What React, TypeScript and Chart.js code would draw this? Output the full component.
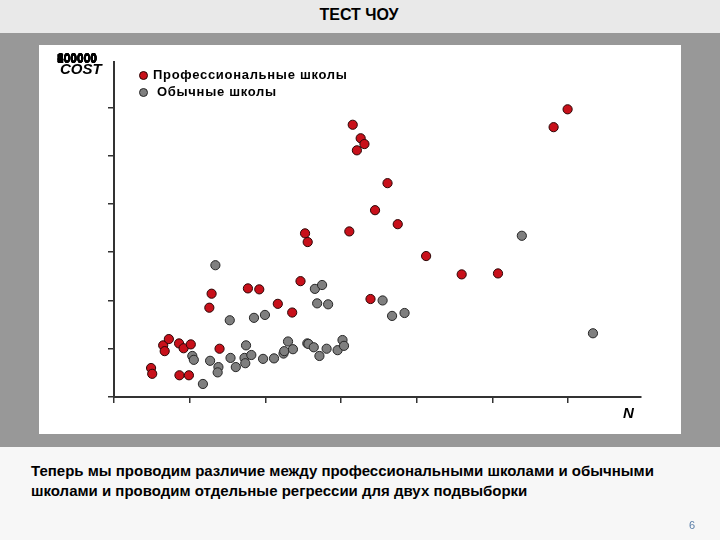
import React, { useEffect, useRef } from "react";
import { Chart, registerables } from "chart.js";

Chart.register(...registerables);

const slideTitle = "ТЕСТ ЧОУ";
const captionLines = [
  "Теперь мы проводим различие между профессиональными школами и обычными",
  "школами и проводим отдельные регрессии для двух подвыборки",
];
const pageNumber = "6";
const yAxisTitle = "COST";
const xAxisTitle = "N";
const seriesNames = ["Профессиональные школы", "Обычные школы"];

// Professional schools (N, COST)
const proN = [98, 101, 130, 134, 145, 172, 184, 203, 173, 198, 252, 258, 279, 354, 384, 433, 471, 493, 505, 512, 622, 631, 642, 652, 662, 678, 690, 723, 750, 825, 919, 1015, 1162, 1199];
const proCost = [60000, 48000, 107000, 95000, 120000, 111000, 101000, 109000, 45000, 45000, 185000, 214000, 100000, 225000, 223000, 193000, 175000, 240000, 339000, 321000, 343000, 564000, 511000, 536000, 524000, 203000, 387000, 443000, 358000, 292000, 254000, 256000, 559000, 596000];

// Regular schools (N, COST)
const regN = [207, 211, 235, 254, 268, 276, 274, 306, 308, 322, 345, 347, 349, 363, 370, 394, 399, 423, 448, 450, 460, 473, 511, 514, 528, 531, 537, 543, 550, 562, 566, 591, 604, 608, 710, 735, 768, 1078, 1266];
const regCost = [85000, 77000, 27000, 75000, 273000, 62000, 51000, 159000, 81000, 62000, 81000, 70000, 107000, 87000, 164000, 79000, 170000, 80000, 90000, 95000, 115000, 99000, 111000, 110000, 103000, 224000, 194000, 85000, 232000, 100000, 192000, 97000, 118000, 106000, 200000, 168000, 174000, 334000, 132000];

const xTickValues = [0, 200, 400, 600, 800, 1000, 1200];
const yTickValues = [0, 100000, 200000, 300000, 400000, 500000, 600000];
const yTickLabels = ["0", "100000", "200000", "300000", "400000", "500000", "600000", "700000"];

const xMax = 1393;
const yMax = 694000;

const FONT = '"Liberation Sans", Arial, sans-serif';
const RED = "#c8101a";
const GRAY = "#7f7f7f";
const AXIS = "#333333";

function ScatterChart() {
  const ref = useRef<HTMLCanvasElement | null>(null);
  useEffect(() => {
    if (!ref.current) return;
    const chart = new Chart(ref.current, {
      type: "scatter",
      data: {
        datasets: [
          {
            label: seriesNames[0],
            data: proN.map((n, i) => ({ x: n, y: proCost[i] })),
            backgroundColor: RED,
            borderColor: "#2a0505",
            borderWidth: 1,
            pointRadius: 4.6,
          },
          {
            label: seriesNames[1],
            data: regN.map((n, i) => ({ x: n, y: regCost[i] })),
            backgroundColor: GRAY,
            borderColor: "#262626",
            borderWidth: 1,
            pointRadius: 4.6,
          },
        ],
      },
      options: {
        responsive: false,
        animation: false,
        layout: { padding: { left: 69, right: 40, top: 17, bottom: 31 } },
        plugins: { legend: { display: false }, tooltip: { enabled: false } },
        scales: {
          x: {
            type: "linear",
            min: 0,
            max: xMax,
            afterBuildTicks: (s: any) => {
              s.ticks = xTickValues.map((v) => ({ value: v }));
            },
            afterFit: (s: any) => {
              s.height = 6;
            },
            ticks: { display: false },
            grid: { drawOnChartArea: false, drawTicks: true, tickLength: 6, color: AXIS, lineWidth: 1.5 },
            border: { color: AXIS, width: 2 },
          },
          y: {
            type: "linear",
            min: 0,
            max: yMax,
            afterBuildTicks: (s: any) => {
              s.ticks = yTickValues.map((v) => ({ value: v }));
            },
            afterFit: (s: any) => {
              s.width = 6;
            },
            ticks: { display: false },
            grid: { drawOnChartArea: false, drawTicks: true, tickLength: 6, color: AXIS, lineWidth: 1.5 },
            border: { color: AXIS, width: 2 },
          },
        },
      },
    });
    return () => chart.destroy();
  }, []);
  return <canvas ref={ref} width={642} height={389} style={{ position: "absolute", left: 0, top: 0 }} />;
}

export default function App() {
  const abs = (s: React.CSSProperties): React.CSSProperties => ({ position: "absolute", ...s });
  return (
    <div style={{ position: "fixed", left: 0, top: 0, width: 720, height: 540, background: "#f7f7f7", overflow: "hidden", fontFamily: FONT }}>
      <div style={abs({ left: 0, top: 0, width: 720, height: 33, background: "#e9e9e9" })} />
      <div style={abs({ left: 0, top: 4, width: 718, textAlign: "center", fontSize: 16, fontWeight: "bold", color: "#000", lineHeight: "22px" })}>
        {slideTitle}
      </div>
      <div style={abs({ left: 0, top: 33, width: 720, height: 414, background: "#989898" })} />
      <div style={abs({ left: 39, top: 45, width: 642, height: 389, background: "#ffffff" })}>
        <ScatterChart />
        {yTickLabels.map((t, i) => (
          <div key={t} style={abs({ right: 642 - 58, top: 6 + (i % 2) * 0.6, fontSize: 12, fontWeight: "bold", color: "#000", lineHeight: "14px", whiteSpace: "nowrap", textAlign: "right" })}>
            {t}
          </div>
        ))}
        <div style={abs({ left: 21, top: 15, fontSize: 15, fontWeight: "bold", fontStyle: "italic", color: "#000", lineHeight: "18px" })}>
          {yAxisTitle}
        </div>
        <div style={abs({ left: 584, top: 359, fontSize: 15, fontWeight: "bold", fontStyle: "italic", color: "#000", lineHeight: "18px" })}>
          {xAxisTitle}
        </div>
        <div style={abs({ left: 100, top: 26, width: 7, height: 7, borderRadius: "50%", background: RED, border: "1px solid #2a0505" })} />
        <div style={abs({ left: 114, top: 21, fontSize: 13, fontWeight: "bold", color: "#000", lineHeight: "17px", letterSpacing: 0.7, whiteSpace: "nowrap" })}>
          {seriesNames[0]}
        </div>
        <div style={abs({ left: 100, top: 43, width: 7, height: 7, borderRadius: "50%", background: GRAY, border: "1px solid #262626" })} />
        <div style={abs({ left: 118, top: 38, fontSize: 13, fontWeight: "bold", color: "#000", lineHeight: "17px", letterSpacing: 0.7, whiteSpace: "nowrap" })}>
          {seriesNames[1]}
        </div>
      </div>
      {captionLines.map((l, i) => (
        <div key={i} style={abs({ left: 31, top: 461 + i * 20, fontSize: 15, fontWeight: "bold", color: "#000", lineHeight: "20px", whiteSpace: "nowrap" })}>
          {l}
        </div>
      ))}
      <div style={abs({ left: 689, top: 518, fontSize: 11, color: "#5a7ea8", lineHeight: "14px" })}>{pageNumber}</div>
    </div>
  );
}
